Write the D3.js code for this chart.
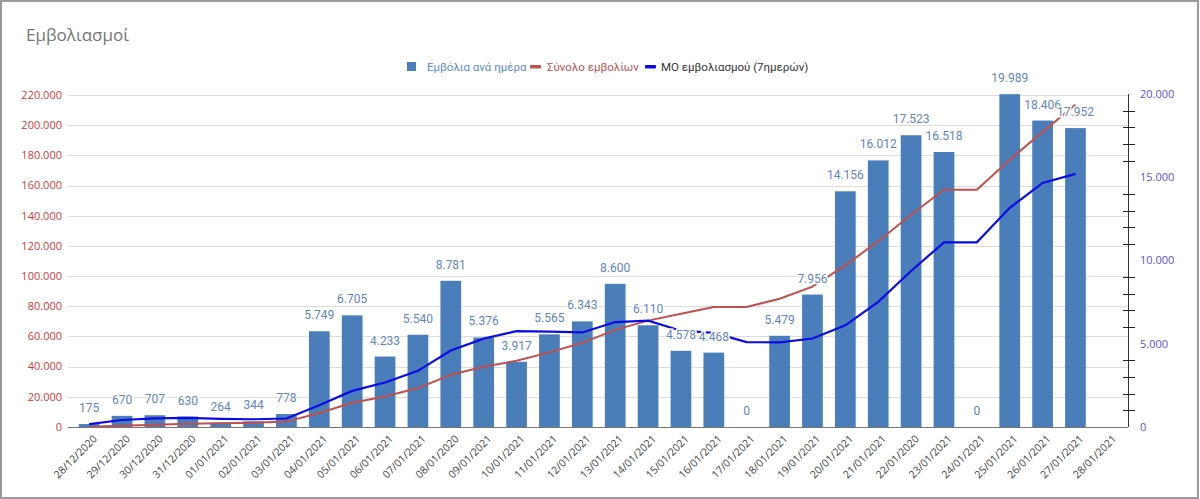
<!DOCTYPE html>
<html>
<head>
<meta charset="utf-8">
<script src="https://cdn.jsdelivr.net/npm/d3@7/dist/d3.min.js"></script>
<style>
  html, body { margin: 0; padding: 0; background: #fff; }
  svg { display: block; }
</style>
</head>
<body>
<svg id="chart" width="1200" height="499"></svg>
<script>
const title = "Εμβολιασμοί";
const dates = ["28/12/2020","29/12/2020","30/12/2020","31/12/2020","01/01/2021","02/01/2021","03/01/2021",
  "04/01/2021","05/01/2021","06/01/2021","07/01/2021","08/01/2020","09/01/2021","10/01/2021","11/01/2021",
  "12/01/2021","13/01/2021","14/01/2021","15/01/2021","16/01/2021","17/01/2021","18/01/2021","19/01/2021",
  "20/01/2021","21/01/2021","22/01/2020","23/01/2021","24/01/2021","25/01/2021","26/01/2021","27/01/2021","28/01/2021"];
const dailyDoses = [175,670,707,630,264,344,778,5749,6705,4233,5540,8781,5376,3917,5565,6343,8600,6110,4578,4468,
  0,5479,7956,14156,16012,17523,16518,0,19989,18406,17952,null];
const totalDoses = [175,845,1552,2182,2446,2790,3568,9317,16022,20255,25795,34576,39952,43869,49434,55777,64377,
  70487,75065,79533,79533,85012,92968,107124,123136,140659,157177,157177,177166,195572,213524,null];
const avg7 = [175,420,520,545,490,465,510,1306,2168,2672,3373,4590,5309,5757,5731,5679,6303,6385,5784,5654,
  5095,5083,5313,6107,7521,9371,11092,11092,13165,14658,15200,null];
const leftTicks = [0,20000,40000,60000,80000,100000,120000,140000,160000,180000,200000,220000];
const rightTicks = [0,5000,10000,15000,20000];
const rightMinorTicks = [1000,2000,3000,4000,6000,7000,8000,9000,11000,12000,13000,14000,16000,17000,18000,19000];
const legendLabels = ["Εμβόλια ανά ημέρα","Σύνολο εμβολίων","ΜΟ εμβολιασμού (7ημερών)"];

const colors = { bar: "#4a7ebb", barLabel: "#6184bd", total: "#c0504d", avg: "#0b0be6",
  leftTick: "#cc3a3a", rightTick: "#5a4fcf", grid: "#dcdcdc", xLabel: "#444" };

const fmt = v => d3.format(",")(v).replace(/,/g, ".");

const svg = d3.select("#chart");
const plot = { left: 68, right: 1128, top: 94, bottom: 427 };

// border
svg.append("rect").attr("x", 1).attr("y", 1).attr("width", 1197).attr("height", 497)
  .attr("fill", "#fff").attr("stroke", "#9a9a9a").attr("stroke-width", 2);

// title
svg.append("text").attr("x", 26).attr("y", 41).text(title)
  .attr("font-family", "'Open Sans', 'Noto Sans', sans-serif").attr("font-size", 17)
  .attr("fill", "#757575");

const x = d3.scaleBand().domain(dates).range([72.7, 1124.8]).paddingInner(0.37).paddingOuter(0.185);
const yL = d3.scaleLinear().domain([0, 220000]).range([plot.bottom, plot.top + 1]);
const yR = d3.scaleLinear().domain([0, 20000]).range([plot.bottom, plot.top]);

// gridlines + left axis
const gl = svg.append("g");
gl.selectAll("line").data(leftTicks.filter(t => t > 0)).join("line")
  .attr("x1", plot.left).attr("x2", plot.right)
  .attr("y1", d => Math.round(yL(d)) + 0.5).attr("y2", d => Math.round(yL(d)) + 0.5)
  .attr("stroke", colors.grid).attr("stroke-width", 1);
gl.selectAll("text").data(leftTicks).join("text")
  .attr("x", 62).attr("y", d => yL(d)).attr("dy", "0.35em").attr("text-anchor", "end")
  .attr("font-family", "'Open Sans', sans-serif").attr("font-size", 11).attr("fill", colors.leftTick)
  .text(d => fmt(d));

// bars
svg.append("g").selectAll("rect").data(dates.map((d, i) => ({ d, v: dailyDoses[i] })).filter(o => o.v !== null))
  .join("rect")
  .attr("x", o => x(o.d)).attr("width", x.bandwidth())
  .attr("y", o => yR(o.v)).attr("height", o => yR(0) - yR(o.v))
  .attr("fill", colors.bar);

// lines
const pts = arr => dates.map((d, i) => ({ d, v: arr[i] })).filter(o => o.v !== null);
svg.append("path").datum(pts(totalDoses))
  .attr("d", d3.line().x(o => x(o.d) + x.bandwidth() / 2).y(o => yL(o.v)))
  .attr("fill", "none").attr("stroke", colors.total).attr("stroke-width", 2);
svg.append("path").datum(pts(avg7))
  .attr("d", d3.line().x(o => x(o.d) + x.bandwidth() / 2).y(o => yR(o.v)))
  .attr("fill", "none").attr("stroke", colors.avg).attr("stroke-width", 2.2);

// bottom axis line
svg.append("line").attr("x1", plot.left).attr("x2", plot.right)
  .attr("y1", plot.bottom + 0.5).attr("y2", plot.bottom + 0.5).attr("stroke", "#777").attr("stroke-width", 1.2);

// right axis
const ra = svg.append("g");
ra.append("line").attr("x1", plot.right + 0.5).attr("x2", plot.right + 0.5)
  .attr("y1", plot.top).attr("y2", plot.bottom).attr("stroke", "#333").attr("stroke-width", 1);
ra.selectAll("line.minor").data(rightMinorTicks).join("line").attr("class", "minor")
  .attr("x1", plot.right - 5).attr("x2", plot.right + 7)
  .attr("y1", d => Math.round(yR(d)) + 0.5).attr("y2", d => Math.round(yR(d)) + 0.5)
  .attr("stroke", "#222").attr("stroke-width", 1);
ra.selectAll("text").data(rightTicks).join("text")
  .attr("x", 1140).attr("y", d => yR(d)).attr("dy", "0.35em")
  .attr("font-family", "'Open Sans', sans-serif").attr("font-size", 11).attr("fill", colors.rightTick)
  .text(d => fmt(d));

// x labels
svg.append("g").selectAll("text").data(dates).join("text")
  .attr("transform", d => `translate(${x(d) + x.bandwidth() / 2 + 6},${plot.bottom + 10}) rotate(-45)`)
  .attr("text-anchor", "end").attr("dy", "0.35em")
  .attr("font-family", "'Open Sans', sans-serif").attr("font-size", 10.5).attr("fill", colors.xLabel)
  .text(d => d);

// data labels
svg.append("g").selectAll("text").data(dates.map((d, i) => ({ d, v: dailyDoses[i] })).filter(o => o.v !== null))
  .join("text")
  .attr("x", o => x(o.d) + x.bandwidth() / 2).attr("y", o => yR(o.v) - 12)
  .attr("text-anchor", "middle")
  .attr("font-family", "Roboto, sans-serif").attr("font-size", 12).attr("fill", colors.barLabel)
  .attr("stroke", "#fff").attr("stroke-width", 3).attr("paint-order", "stroke")
  .text(o => fmt(o.v));

// legend
const lg = svg.append("g").attr("font-family", "Roboto, sans-serif").attr("font-size", 11.5);
const legendX = [407, 530, 645];
const legendColors = [colors.bar, colors.total, colors.avg];
const legendText = ["#5b8ad0", "#c0504d", "#333"];
const legendTextX = [427, 547, 661];
legendLabels.forEach((lab, i) => {
  if (i === 0) {
    lg.append("rect").attr("x", legendX[i]).attr("y", 62).attr("width", 9).attr("height", 9).attr("fill", legendColors[i]);
  } else {
    lg.append("rect").attr("x", legendX[i]).attr("y", 65).attr("width", 11).attr("height", 3.5).attr("rx", 1).attr("fill", legendColors[i]);
  }
  lg.append("text").attr("x", legendTextX[i]).attr("y", 67).attr("dy", "0.35em")
    .attr("fill", legendText[i]).text(lab);
});
</script>
</body>
</html>
